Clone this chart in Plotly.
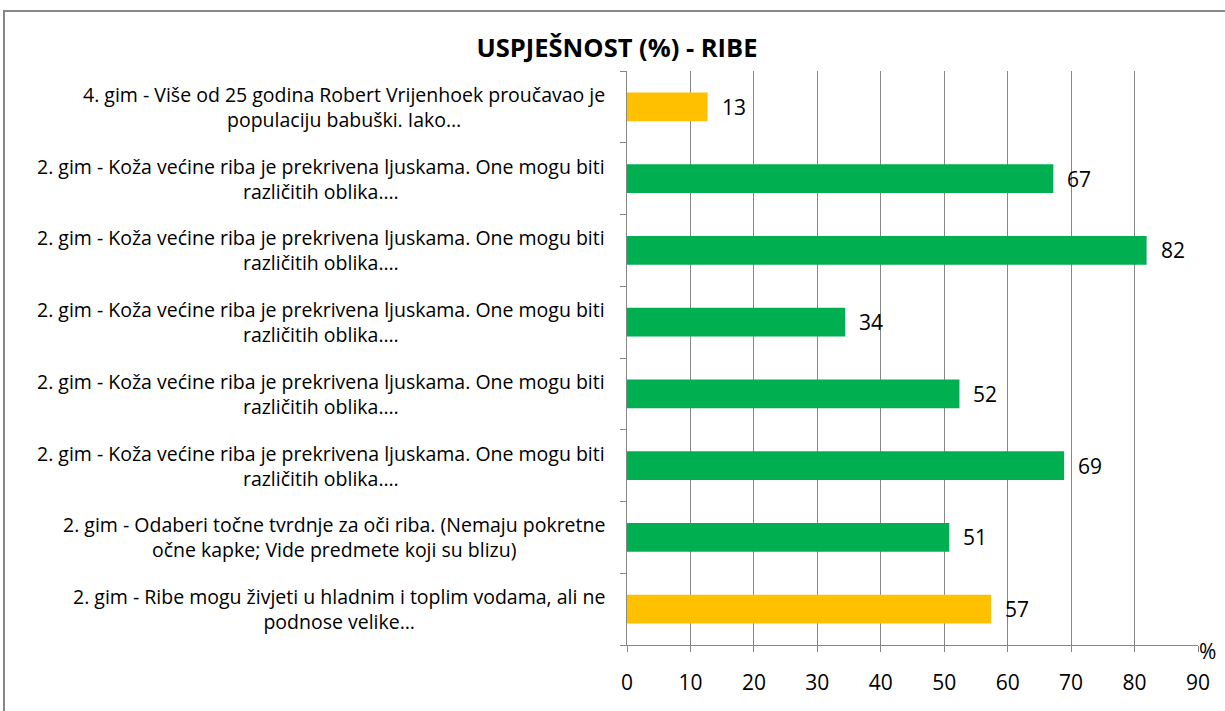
import plotly.graph_objects as go

# ---- data (top to bottom) ----
categories = [
    "4. gim - Više od 25 godina Robert Vrijenhoek proučavao je<br>populaciju babuški. Iako…",
    "2. gim - Koža većine riba je prekrivena ljuskama. One mogu biti<br>različitih oblika.…",
    "2. gim - Koža većine riba je prekrivena ljuskama. One mogu biti<br>različitih oblika.…",
    "2. gim - Koža većine riba je prekrivena ljuskama. One mogu biti<br>različitih oblika.…",
    "2. gim - Koža većine riba je prekrivena ljuskama. One mogu biti<br>različitih oblika.…",
    "2. gim - Koža većine riba je prekrivena ljuskama. One mogu biti<br>različitih oblika.…",
    "2. gim - Odaberi točne tvrdnje za oči riba. (Nemaju pokretne<br>očne kapke; Vide predmete koji su blizu)",
    "2. gim - Ribe mogu živjeti u hladnim i toplim vodama, ali ne<br>podnose velike…",
]
values = [12.7, 67.2, 81.9, 34.4, 52.4, 68.9, 50.8, 57.4]
labels = ["13", "67", "82", "34", "52", "69", "51", "57"]
school_group = ["4", "2", "2", "2", "2", "2", "2", "4"]
x_ticks = [0, 10, 20, 30, 40, 50, 60, 70, 80, 90]

colour_map = {"4": "#FFC000", "2": "#00B050"}
FONT = "'Open Sans', Lato, sans-serif"
GRAY = "#878787"

positions = list(range(len(categories)))

fig = go.Figure()
fig.add_trace(go.Bar(
    x=values,
    y=positions,
    orientation="h",
    marker=dict(color=[colour_map[g] for g in school_group], line=dict(width=0)),
    width=0.4,
    hoverinfo="x",
))

annotations = []
for p, cat in zip(positions, categories):
    annotations.append(dict(
        x=0, xref="paper", y=p, yref="y", text=cat, showarrow=False,
        xanchor="right", yanchor="middle", align="center", xshift=-20,
        font=dict(family=FONT, size=19.5, color="#000000"),
    ))
for p, v, lab in zip(positions, values, labels):
    annotations.append(dict(
        x=v, xref="x", y=p, yref="y", text=lab, showarrow=False,
        xanchor="left", yanchor="middle", xshift=12,
        font=dict(family=FONT, size=21, color="#000000"),
    ))
annotations.append(dict(
    x=1, xref="paper", y=0, yref="paper", text="%", showarrow=False,
    xanchor="center", yanchor="middle", xshift=9, yshift=-6,
    font=dict(family=FONT, size=21, color="#000000"),
))

fig.update_layout(
    width=1225, height=711,
    margin=dict(l=627, r=27, t=71, b=66),
    paper_bgcolor="white", plot_bgcolor="white",
    showlegend=False,
    title=dict(text="<b>USPJEŠNOST (%) - RIBE</b>", x=617 / 1225, xref="container", xanchor="center",
               y=1 - 48 / 711, yref="container", yanchor="middle",
               font=dict(family=FONT, size=25.5, color="#000000")),
    annotations=annotations,
    shapes=[dict(type="rect", xref="paper", yref="paper",
                 x0=-1.0911, x1=1.2, y0=-0.3, y1=1.1045,
                 line=dict(color=GRAY, width=2), fillcolor="rgba(0,0,0,0)", layer="below")],
)

fig.update_xaxes(
    range=[0, 90], tickvals=x_ticks, ticktext=[str(t) for t in x_ticks],
    showgrid=True, gridcolor=GRAY, gridwidth=1,
    showline=True, linecolor=GRAY, linewidth=1,
    ticks="outside", ticklen=6, tickcolor=GRAY,
    zeroline=False, ticklabelstandoff=13,
    tickfont=dict(family=FONT, size=21, color="#000000"),
)
fig.update_yaxes(
    range=[len(categories) - 0.5, -0.5],
    tickvals=[p - 0.5 for p in positions] + [len(categories) - 0.5],
    showticklabels=False,
    showgrid=False, zeroline=False,
    showline=True, linecolor=GRAY, linewidth=1,
    ticks="outside", ticklen=6, tickcolor=GRAY,
)

fig.write_html("out.html", config={"displayModeBar": False},
               post_script="document.body.style.margin='0';document.body.style.overflow='hidden';")
